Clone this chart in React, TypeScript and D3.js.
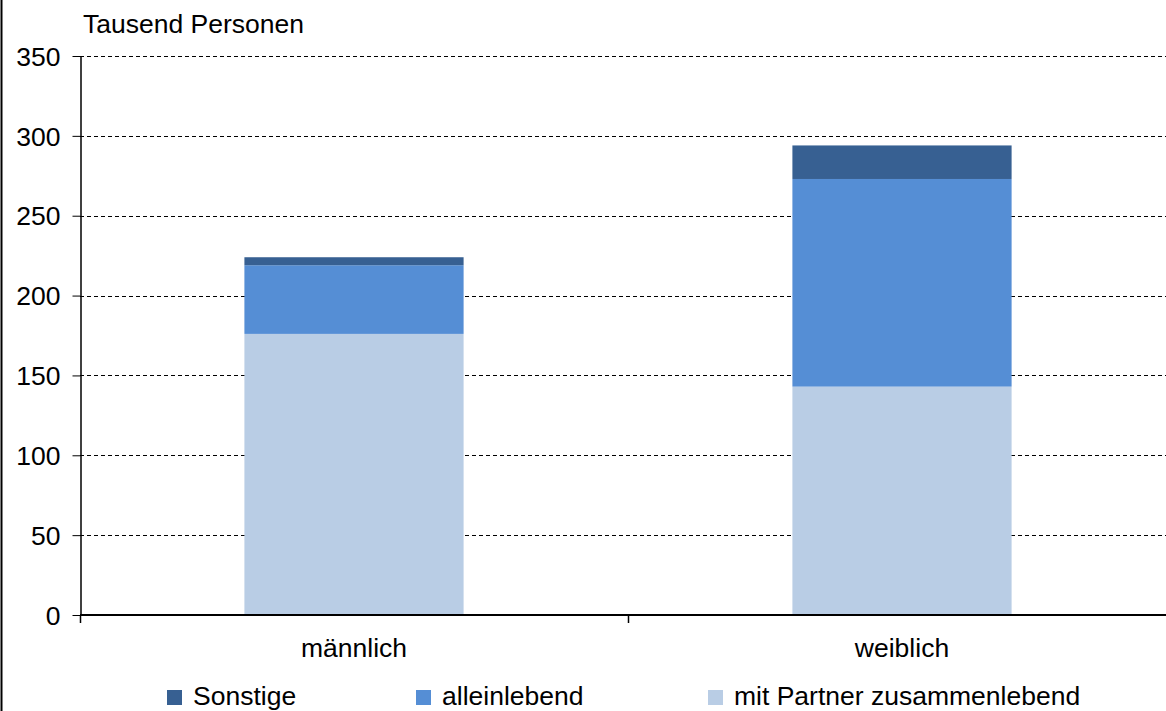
import React, { useEffect, useRef } from "react";
import * as d3 from "d3";

const categories = ["männlich", "weiblich"];
const seriesNames = ["mit Partner zusammenlebend", "alleinlebend", "Sonstige"];
const mitPartner = [176, 143];
const alleinlebend = [43, 130];
const sonstige = [5, 21];
const yTicks = [0, 50, 100, 150, 200, 250, 300, 350];
const colors = ["#B9CDE5", "#558ED5", "#376092"];
const legendOrder = ["Sonstige", "alleinlebend", "mit Partner zusammenlebend"];

const App = () => {
  const chartRef = useRef<SVGSVGElement>(null);

  useEffect(() => {
    drawChart();
  }, []);

  const drawChart = () => {
    const svg = d3.select(chartRef.current);
    svg.selectAll("*").remove();

    const width = 1166;
    const height = 711;
    const margin = { top: 56, left: 80, bottom: 96 };
    const font = "Liberation Sans, Arial, sans-serif";
    const fs = 26.5;

    const x = d3
      .scaleBand()
      .domain(categories)
      .range([margin.left, 1176]);
    const barWidth = x.bandwidth() * 0.4;

    const y = d3
      .scaleLinear()
      .domain([0, 350])
      .range([height - margin.bottom, margin.top]);

    // frame line on the left
    svg
      .append("line")
      .attr("x1", 1.5)
      .attr("x2", 1.5)
      .attr("y1", 0)
      .attr("y2", height)
      .attr("stroke", "#000")
      .attr("stroke-width", 2);

    // grid lines
    svg
      .append("g")
      .selectAll("line")
      .data(yTicks.filter((d) => d > 0))
      .join("line")
      .attr("x1", margin.left)
      .attr("x2", width)
      .attr("y1", (d) => Math.round(y(d)) + 0.5)
      .attr("y2", (d) => Math.round(y(d)) + 0.5)
      .attr("stroke", "#000")
      .attr("stroke-width", 1)
      .attr("stroke-dasharray", "4,3");

    // stacked bars
    const data = categories.map((c, i) => ({
      cat: c,
      "mit Partner zusammenlebend": mitPartner[i],
      alleinlebend: alleinlebend[i],
      Sonstige: sonstige[i],
    }));
    const stack = d3.stack().keys(seriesNames)(data as any);

    svg
      .append("g")
      .selectAll("g")
      .data(stack)
      .join("g")
      .attr("fill", (d, i) => colors[i])
      .selectAll("rect")
      .data((d) => d)
      .join("rect")
      .attr("x", (d: any) => x(d.data.cat)! + x.bandwidth() / 2 - barWidth / 2)
      .attr("width", barWidth)
      .attr("y", (d) => y(d[1]))
      .attr("height", (d) => y(d[0]) - y(d[1]));

    // y axis
    const yAxis = svg
      .append("g")
      .attr("transform", `translate(${margin.left + 0.5},0)`)
      .call(d3.axisLeft(y).tickValues(yTicks).tickSize(8).tickSizeOuter(0));
    yAxis.select(".domain").attr("stroke", "#000").attr("stroke-width", 1.5);
    yAxis.selectAll(".tick line").attr("stroke", "#000");
    yAxis
      .selectAll("text")
      .attr("x", -20)
      .attr("dy", "0.35em")
      .attr("font-size", fs)
      .attr("font-family", font)
      .attr("fill", "#000");

    // x axis baseline and ticks
    const baseY = y(0);
    svg
      .append("line")
      .attr("x1", margin.left)
      .attr("x2", width)
      .attr("y1", baseY)
      .attr("y2", baseY)
      .attr("stroke", "#000")
      .attr("stroke-width", 2);

    const boundaries = [margin.left, x(categories[1])!];
    svg
      .append("g")
      .selectAll("line")
      .data(boundaries)
      .join("line")
      .attr("x1", (d) => d + 0.5)
      .attr("x2", (d) => d + 0.5)
      .attr("y1", baseY)
      .attr("y2", baseY + 8)
      .attr("stroke", "#000")
      .attr("stroke-width", 1.5);

    svg
      .append("g")
      .selectAll("text")
      .data(categories)
      .join("text")
      .attr("x", (d) => x(d)! + x.bandwidth() / 2)
      .attr("y", baseY + 42)
      .attr("text-anchor", "middle")
      .attr("font-size", fs)
      .attr("font-family", font)
      .text((d) => d);

    // axis title
    svg
      .append("text")
      .attr("x", 83)
      .attr("y", 33)
      .attr("font-size", fs)
      .attr("font-family", font)
      .text("Tausend Personen");

    // legend
    const legendX = [167, 416, 708];
    const legend = svg
      .append("g")
      .selectAll("g")
      .data(legendOrder)
      .join("g")
      .attr("transform", (d, i) => `translate(${legendX[i]},${height - 21})`);
    legend
      .append("rect")
      .attr("width", 15)
      .attr("height", 15)
      .attr("y", 0)
      .attr("fill", (d) => colors[seriesNames.indexOf(d)]);
    legend
      .append("text")
      .attr("x", 26)
      .attr("y", 15)
      .attr("font-size", fs)
      .attr("font-family", font)
      .text((d) => d);
  };

  return (
    <svg
      ref={chartRef}
      width={1166}
      height={711}
      style={{ position: "absolute", left: 0, top: 0, background: "#fff" }}
    ></svg>
  );
};

export default App;
